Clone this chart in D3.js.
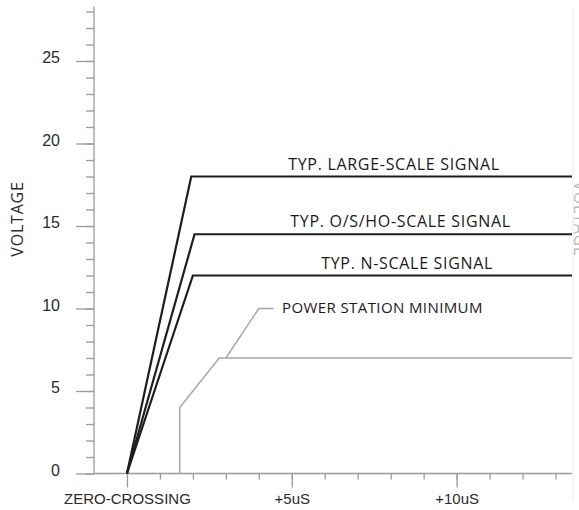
<!DOCTYPE html>
<html lang="en">
<head>
<meta charset="utf-8">
<script src="https://d3js.org/d3.v7.min.js"></script>
<style type="text/css">
body { margin: 0; background: #fff; }
svg { display: block; font-family: "Open Sans", sans-serif; }
.axis path, .axis line { fill: none; stroke: #9a9a9a; stroke-width: 1.3; }
.axis text { font-size: 15px; fill: #2a2a2a; }
.yax text { font-size: 16px; }
.sig { fill: none; stroke: #1e1e1e; stroke-width: 2.2; }
.psm { fill: none; stroke: #a8a8a8; stroke-width: 1.5; }
.lbl { font-size: 16px; fill: #1a1a1a; letter-spacing: 0.7px; }
.lbl.small { font-size: 15px; letter-spacing: 0.4px; }
</style>
</head>
<body>
<script type="text/javascript">
// time in uS, level in volts
var largeScale = [[0, 0], [1.95, 18], [13.5, 18]];
var osScale    = [[0, 0], [2.05, 14.5], [13.5, 14.5]];
var nScale     = [[0, 0], [2.0, 12], [13.5, 12]];
var powerMin   = [[1.6, 0], [1.6, 4], [2.8, 7], [13.5, 7]];
var leader     = [[3.0, 7], [4.0, 10], [4.45, 10]];

var labelText = ["TYP. LARGE-SCALE SIGNAL", "TYP. O/S/HO-SCALE SIGNAL", "TYP. N-SCALE SIGNAL", "POWER STATION MINIMUM"];
var labelAt   = [[8.1, 18], [8.3, 14.5], [8.5, 12], [7.75, 10]];

var yMajor = [0, 5, 10, 15, 20, 25];
var xMajor = [0, 5, 10];
var xTickText = ["ZERO-CROSSING", "+5uS", "+10uS"];

var W = 579, H = 510;
var x = d3.scaleLinear().domain([-1, 13.5]).range([94, 572]);
var y = d3.scaleLinear().domain([0, 28]).range([473.5, 11.5]);

var svg = d3.select("body").append("svg")
  .attr("width", W).attr("height", H);

// faint right border
svg.append("line")
  .attr("x1", 573).attr("x2", 573).attr("y1", 8).attr("y2", 500)
  .attr("stroke", "#ececec").attr("stroke-width", 1);

// y axis, minor + major
svg.append("g").attr("class", "axis")
  .attr("transform", "translate(" + x(-1) + ",0)")
  .call(d3.axisLeft(y).tickValues(d3.range(0, 29)).tickSize(8).tickFormat(""))
  .call(function(g){ g.select(".domain").remove(); });

svg.append("g").attr("class", "axis yax")
  .attr("transform", "translate(" + x(-1) + ",0)")
  .call(d3.axisLeft(y).tickValues(yMajor).tickSize(18).tickPadding(16).tickSizeOuter(0))
  .call(function(g){
    g.select(".domain").attr("d", "M0," + y(0) + "V" + y(28.3));
    g.selectAll("text").attr("dy", "0.1em");
  });

// x axis, minor + major
svg.append("g").attr("class", "axis")
  .attr("transform", "translate(0," + y(0) + ")")
  .call(d3.axisBottom(x).tickValues(d3.range(1, 14)).tickSize(6).tickFormat(""))
  .call(function(g){ g.select(".domain").remove(); });

svg.append("g").attr("class", "axis")
  .attr("transform", "translate(0," + y(0) + ")")
  .call(d3.axisBottom(x).tickValues(xMajor).tickSize(14).tickPadding(6).tickSizeOuter(0)
    .tickFormat(function(d, i){ return xTickText[i]; }))
  .call(function(g){
    g.select(".domain").attr("d", "M" + x(-1) + ",0H" + x(13.5));
  });

var line = d3.line().x(function(d){ return x(d[0]); }).y(function(d){ return y(d[1]); });

svg.append("path").attr("class", "psm").attr("d", line(powerMin));
svg.append("path").attr("class", "psm").attr("d", line(leader));

[largeScale, osScale, nScale].forEach(function(s){
  svg.append("path").attr("class", "sig").attr("d", line(s));
});

labelText.forEach(function(t, i){
  svg.append("text").attr("class", i == 3 ? "lbl small" : "lbl")
    .attr("x", x(labelAt[i][0]))
    .attr("y", y(labelAt[i][1]) - (i == 3 ? -4 : 7))
    .attr("text-anchor", "middle")
    .text(t);
});

// axis titles
svg.append("text")
  .attr("transform", "translate(23,219) rotate(-90)")
  .attr("text-anchor", "middle")
  .style("font-size", "16px").style("letter-spacing", "0.8px").style("fill", "#2a2a2a")
  .text("VOLTAGE");

svg.append("text")
  .attr("transform", "translate(574,219) rotate(90)")
  .attr("text-anchor", "middle")
  .style("font-size", "16px").style("letter-spacing", "0.8px").style("fill", "#bbb")
  .text("VOLTAGE");
</script>
</body>
</html>
